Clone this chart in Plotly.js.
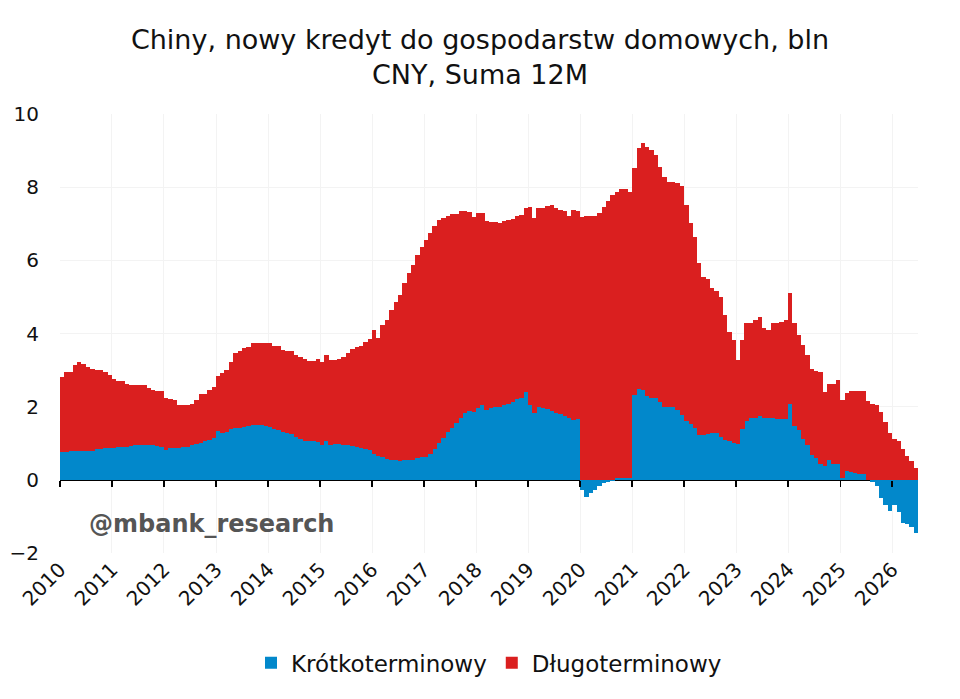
<!DOCTYPE html>
<html>
<head>
<meta charset="utf-8">
<script src="https://cdn.plot.ly/plotly-3.0.1.min.js"></script>
<style>
  html, body { margin: 0; padding: 0; background: #fff; }
  #chart { width: 960px; height: 699px; }
</style>
</head>
<body>
<div id="chart"></div>
<script>
// monthly, 12M sums, bln CNY; one row per year from 2010-01 to 2026-06
var krotko = [
  0.77, 0.76, 0.78, 0.79, 0.79, 0.79, 0.79, 0.80, 0.83, 0.84, 0.87, 0.88,
  0.88, 0.89, 0.90, 0.91, 0.92, 0.94, 0.96, 0.96, 0.96, 0.96, 0.92, 0.91,
  0.82, 0.87, 0.88, 0.88, 0.89, 0.90, 0.96, 0.97, 1.00, 1.05, 1.08, 1.14,
  1.34, 1.29, 1.32, 1.39, 1.41, 1.41, 1.45, 1.48, 1.50, 1.50, 1.49, 1.46,
  1.44, 1.40, 1.35, 1.31, 1.27, 1.25, 1.18, 1.12, 1.07, 1.05, 1.05, 1.04,
  0.96, 1.05, 0.94, 0.98, 0.98, 0.96, 0.95, 0.93, 0.90, 0.87, 0.84, 0.82,
  0.70, 0.66, 0.63, 0.58, 0.55, 0.53, 0.52, 0.55, 0.53, 0.55, 0.60, 0.62,
  0.63, 0.70, 0.85, 1.02, 1.14, 1.30, 1.42, 1.55, 1.70, 1.82, 1.87, 1.85,
  1.96, 2.05, 1.92, 1.96, 1.98, 2.00, 2.04, 2.08, 2.13, 2.20, 2.25, 2.40,
  2.05, 1.82, 1.98, 1.96, 1.94, 1.88, 1.84, 1.80, 1.74, 1.68, 1.64, 1.65,
  -0.27, -0.46, -0.37, -0.27, -0.18, -0.10, -0.05, -0.02, 0.04, 0.06, 0.06, 0.05,
  2.32, 2.48, 2.45, 2.28, 2.25, 2.25, 2.14, 2.00, 2.00, 2.00, 1.90, 1.78,
  1.62, 1.52, 1.42, 1.22, 1.22, 1.26, 1.27, 1.28, 1.18, 1.10, 1.05, 1.00,
  0.98, 1.40, 1.62, 1.68, 1.70, 1.75, 1.68, 1.70, 1.68, 1.66, 1.66, 1.67,
  2.08, 1.46, 1.35, 1.12, 0.94, 0.69, 0.60, 0.44, 0.39, 0.55, 0.44, 0.44,
  0.05, 0.25, 0.22, 0.19, 0.15, 0.15, 0.00, -0.06, -0.17, -0.50, -0.70, -0.86,
  -0.70, -0.88, -1.18, -1.22, -1.29, -1.45
];

var dlugo = [
  2.04, 2.20, 2.18, 2.35, 2.44, 2.38, 2.29, 2.22, 2.17, 2.16, 2.09, 1.99,
  1.87, 1.80, 1.81, 1.71, 1.68, 1.66, 1.64, 1.64, 1.54, 1.50, 1.51, 1.52,
  1.43, 1.35, 1.31, 1.17, 1.15, 1.15, 1.12, 1.21, 1.35, 1.31, 1.38, 1.39,
  1.50, 1.62, 1.68, 1.84, 2.05, 2.10, 2.15, 2.16, 2.23, 2.24, 2.24, 2.27,
  2.29, 2.27, 2.32, 2.24, 2.24, 2.26, 2.24, 2.23, 2.23, 2.21, 2.21, 2.26,
  2.27, 2.37, 2.34, 2.30, 2.32, 2.41, 2.51, 2.64, 2.72, 2.79, 2.92, 3.04,
  3.40, 3.21, 3.60, 3.79, 4.09, 4.34, 4.53, 4.82, 5.12, 5.32, 5.55, 5.75,
  5.92, 6.05, 6.10, 6.08, 6.01, 5.90, 5.86, 5.73, 5.64, 5.54, 5.46, 5.33,
  5.34, 5.25, 5.16, 5.09, 5.06, 5.02, 5.03, 5.02, 4.99, 5.00, 4.99, 5.04,
  5.40, 5.33, 5.44, 5.47, 5.54, 5.64, 5.58, 5.58, 5.62, 5.54, 5.74, 5.70,
  7.19, 7.20, 7.20, 7.21, 7.30, 7.45, 7.62, 7.78, 7.84, 7.88, 7.90, 7.82,
  6.20, 6.58, 6.77, 6.83, 6.77, 6.63, 6.42, 6.29, 6.13, 6.13, 6.21, 6.25,
  5.89, 5.49, 5.23, 4.70, 4.33, 4.24, 3.97, 3.87, 3.83, 3.41, 3.00, 2.83,
  2.30, 2.43, 2.66, 2.61, 2.67, 2.71, 2.47, 2.40, 2.60, 2.63, 2.66, 2.70,
  3.02, 2.82, 2.61, 2.57, 2.48, 2.33, 2.38, 2.51, 2.00, 2.07, 2.18, 2.30,
  2.14, 2.12, 2.22, 2.25, 2.29, 2.28, 2.15, 2.06, 2.04, 1.85, 1.57, 1.27,
  1.12, 1.05, 0.85, 0.64, 0.51, 0.33
];

var seriesNames = ['Krótkoterminowy', 'Długoterminowy'];
var seriesColors = ['#0288CB', '#DA1F1F'];

// month labels
var months = [];
for (var i = 0; i < krotko.length; i++) {
  var y = 2010 + Math.floor(i / 12);
  var m = (i % 12) + 1;
  months.push(y + '-' + (m < 10 ? '0' + m : m) + '-16');
}

var barWidth = 31 * 24 * 3600 * 1000;
var font = 'DejaVu Sans, sans-serif';

var trace1 = {
  x: months,
  y: krotko,
  type: 'bar',
  name: seriesNames[0],
  width: barWidth,
  marker: { color: seriesColors[0], line: { width: 0 } }
};

var trace2 = {
  x: months,
  y: dlugo,
  type: 'bar',
  name: seriesNames[1],
  width: barWidth,
  marker: { color: seriesColors[1], line: { width: 0 } }
};

// empty trace so the tick axis on the zero line gets drawn
var tickTrace = {
  x: [months[0]],
  y: [null],
  xaxis: 'x2',
  type: 'scatter',
  mode: 'markers',
  showlegend: false,
  hoverinfo: 'skip'
};

var xRange = ['2010-01-01', '2026-07-01'];

var layout = {
  width: 960,
  height: 699,
  barmode: 'relative',
  bargap: 0,
  paper_bgcolor: '#fff',
  plot_bgcolor: '#fff',
  font: { family: font, color: '#111', size: 20 },
  margin: { l: 60, r: 42, t: 114, b: 146 },
  title: {
    text: 'Chiny, nowy kredyt do gospodarstw domowych, bln<br>CNY, Suma 12M',
    font: { family: font, size: 27, color: '#111' },
    x: 0.5, xanchor: 'center',
    yref: 'container', y: 0.93, yanchor: 'middle'
  },
  xaxis: {
    type: 'date',
    range: xRange,
    tick0: '2010-01-01',
    dtick: 'M12',
    tickformat: '%Y',
    tickangle: -45,
    ticks: '',
    showline: false,
    showgrid: true,
    gridcolor: '#f3f3f3',
    zeroline: false,
    tickfont: { size: 20, color: '#111' },
    fixedrange: true
  },
  xaxis2: {
    type: 'date',
    range: xRange,
    overlaying: 'x',
    anchor: 'free',
    position: 2 / 12,
    side: 'bottom',
    tick0: '2010-01-01',
    dtick: 'M12',
    ticks: 'outside',
    ticklen: 6,
    tickwidth: 1.5,
    tickcolor: '#000',
    showticklabels: false,
    showgrid: false,
    showline: false,
    zeroline: false
  },
  yaxis: {
    range: [-2, 10],
    dtick: 2,
    showgrid: true,
    gridcolor: '#f3f3f3',
    zeroline: true,
    zerolinecolor: '#000',
    zerolinewidth: 2,
    ticks: '',
    ticklabelstandoff: 20,
    tickfont: { size: 20, color: '#111' },
    fixedrange: true
  },
  legend: {
    orientation: 'h',
    x: 0.5, xanchor: 'center',
    y: -0.25, yanchor: 'middle',
    font: { size: 23, color: '#111' },
    itemwidth: 30
  },
  annotations: [{
    text: '@mbank_research',
    xref: 'paper', yref: 'paper',
    x: 0.177, y: 0.065,
    xanchor: 'center', yanchor: 'middle',
    showarrow: false,
    font: { family: 'DejaVu Sans, sans-serif', size: 24, color: '#555', weight: 'bold' }
  }]
};

Plotly.newPlot('chart', [trace1, trace2, tickTrace], layout, { displayModeBar: false, staticPlot: true });
</script>
</body>
</html>
